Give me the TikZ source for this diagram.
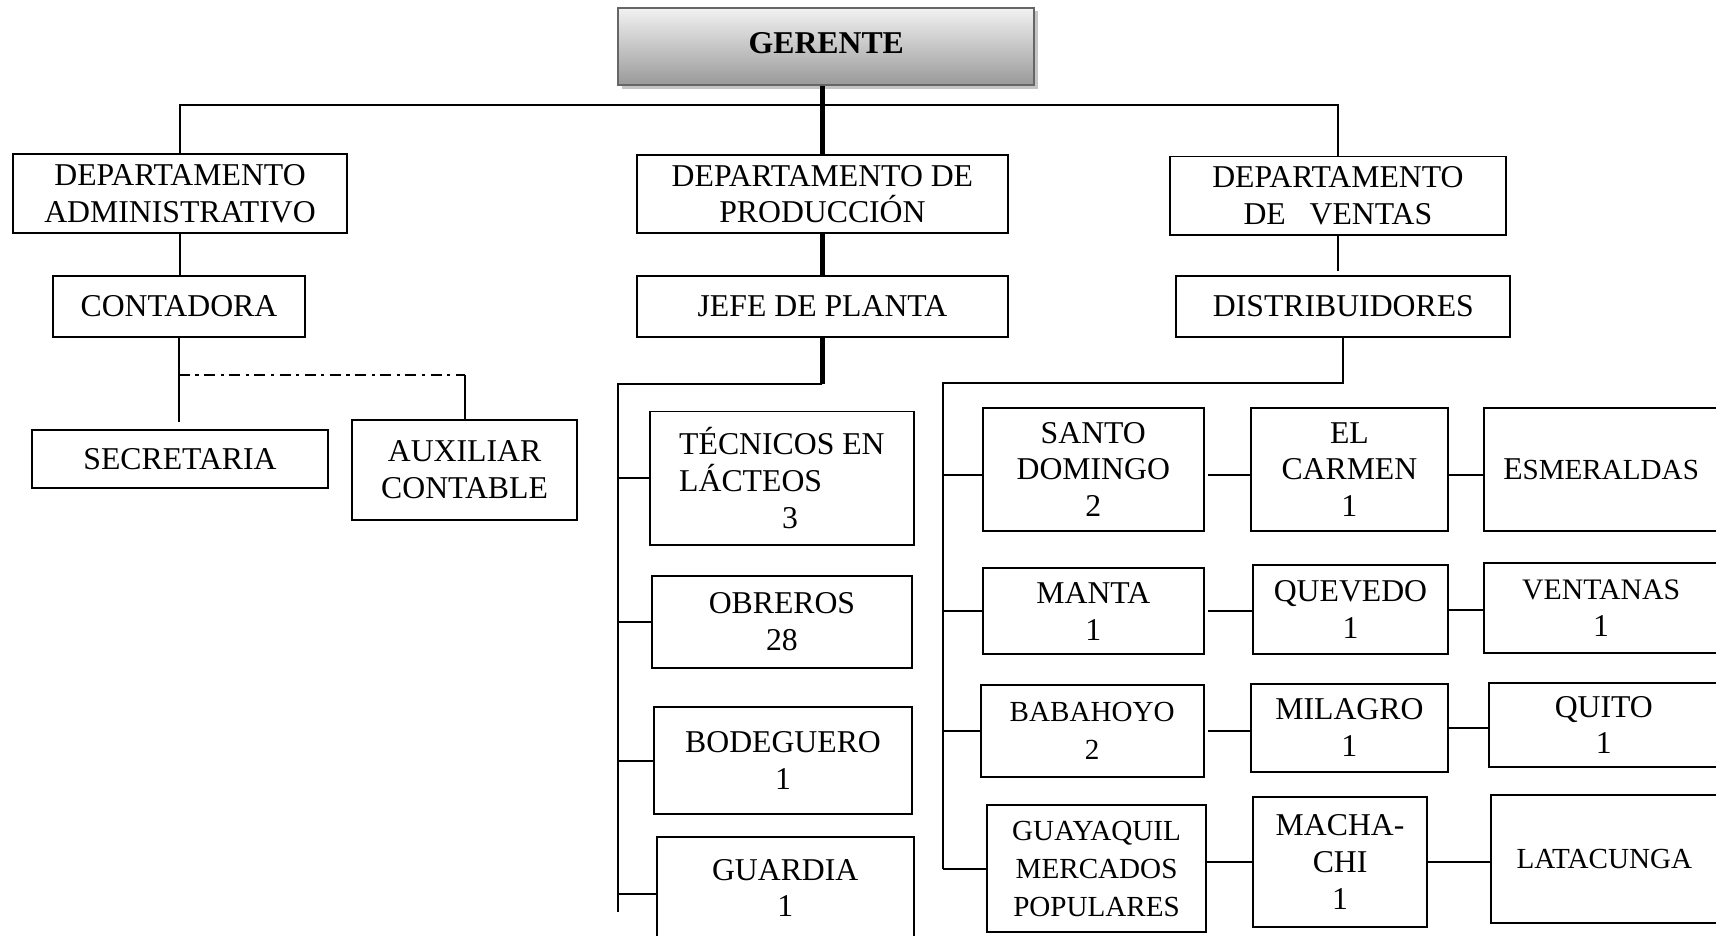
\documentclass[tikz,border=0pt]{standalone}
\usepackage{fontspec}
\setmainfont{Liberation Serif}
\usetikzlibrary{shadows}
\begin{document}
\begin{tikzpicture}[x=0.5pt,y=-0.5pt,
  spot/.style args={#1/#2/#3/#4}{minimum width={(#3-#1)*0.5pt}, minimum height={(#4-#2)*0.5pt}, at={({(#1+#3)/2},{(#2+#4)/2})}},
  box/.style={draw=black, line width=0.9pt, fill=white, inner sep=0pt, align=center, font=\fontsize{14.5}{16.8}\selectfont},
  sbox/.style={box, font=\fontsize{13.3}{17.2}\selectfont},
  conn/.style={line width=0.9pt},
  heavy/.style={line width=2.6pt},
  dashdot/.style={line width=0.9pt, dash pattern=on 5pt off 2.5pt on 1.5pt off 2.5pt}
]
\useasboundingbox (0,0) rectangle (1568,855);

% top
\node[spot=565/7/945/78, inner sep=0pt, draw=black!60, line width=1pt,
      top color=black!5, bottom color=black!40,
      drop shadow={shadow xshift=1.6pt, shadow yshift=-1.6pt, fill=black!45},
      font=\bfseries\fontsize{14.5}{16}\selectfont] (ger) {\raisebox{3pt}{GERENTE}};

% departments
\node[box, spot=12/141/317/213] (adm) {DEPARTAMENTO\\ADMINISTRATIVO};
\node[box, spot=582/142/921/213] (prod) {DEPARTAMENTO DE\\PRODUCCIÓN};
\node[box, spot=1069/143/1376/215] (ven) {DEPARTAMENTO\\DE\ \ \ VENTAS};

% admin
\node[box, spot=48/252/279/308] (con) {CONTADORA};
\node[box, spot=29/393/300/446] (sec) {SECRETARIA};
\node[box, spot=322/384/527/475] (aux) {AUXILIAR\\CONTABLE};

% production
\node[box, spot=582/252/921/308] (jefe) {JEFE DE PLANTA};
\node[box, spot=594/376/835/498, align=left] (tec) {TÉCNICOS EN\\LÁCTEOS\\\hspace*{47pt}3};
\node[box, spot=596/526/833/610] (obr) {OBREROS\\28};
\node[box, spot=598/646/833/744] (bod) {BODEGUERO\\1};
\node[box, spot=600/765/835/858] (gua) {GUARDIA\\1};

% sales
\node[box, spot=1075/252/1380/308] (dist) {DISTRIBUIDORES};
\node[box, spot=898/373/1100/485] (sd) {SANTO\\DOMINGO\\2};
\node[box, spot=898/519/1100/598] (man) {MANTA\\1};
\node[sbox, spot=896/626/1100/710] (bab) {BABAHOYO\\2};
\node[sbox, spot=902/736/1102/852] (guay) {GUAYAQUIL\\MERCADOS\\POPULARES};
\node[box, spot=1143/373/1323/485] (ec) {EL\\CARMEN\\1};
\node[box, spot=1145/516/1323/598] (que) {QUEVEDO\\1};
\node[box, spot=1143/625/1323/705] (mil) {MILAGRO\\1};
\node[box, spot=1145/728/1304/847] (mach) {MACHA-\\CHI\\1};
\node[box, spot=1356/373/1570/485] (esm) {E{\fontsize{13.3}{16}\selectfont SMERALDAS}};
\node[box, spot=1356/514/1570/597] (vts) {{\fontsize{13.6}{16}\selectfont VENTANAS}\\1};
\node[box, spot=1361/624/1570/701] (qui) {QUITO\\1};
\node[sbox, spot=1362/726/1570/843] (lat) {LATACUNGA};

% top bus
\draw[conn] (adm.north) -- ++(0,-44) -| (ven.north);
\draw[heavy] (prod.north) -- (prod.north |- ger.south);

% admin branch
\draw[conn] (adm.south) -- (adm.south |- con.north);
\draw[conn] (con.south) -- ++(0,77);
\path (con.south) ++(0,34) coordinate (cd);
\draw[dashdot] (cd) -- (cd -| aux.north);
\draw[conn] (cd -| aux.north) -- (aux.north);

% production branch
\draw[heavy] (prod.south) -- (jefe.north);
\draw[heavy] (jefe.south) -- ++(0,42) coordinate (pj);
\draw[conn] (pj) -- ++(-187,0) coordinate (ps) -- ++(0,482);
\draw[conn] (tec.west) -- (tec.west -| ps);
\draw[conn] (obr.west) -- (obr.west -| ps);
\draw[conn] (bod.west) -- (bod.west -| ps);
\path ([yshift=-2.75pt]gua.west) coordinate (gw);
\draw[conn] (gw) -- (gw -| ps);

% sales branch
\draw[conn] (ven.south) -- ++(0,32);
\draw[conn] (dist.south) -- ++(0,41) -- ++(-365.5,0) coordinate (ds) -- ++(0,444);
\path ([yshift=-2.5pt]sd.west) coordinate (sdw);
\path ([yshift=-2.5pt,xshift=1.5pt]sd.east) coordinate (sde);
\path ([yshift=-2.5pt]ec.east) coordinate (ece);
\draw[conn] (sdw) -- (sdw -| ds);
\draw[conn] (man.west) -- (man.west -| ds);
\draw[conn] (bab.west) -- (bab.west -| ds);
\draw[conn] (guay.west) -- (guay.west -| ds);

\draw[conn] (sde) -- (sde -| ec.west);
\draw[conn] ([xshift=1.5pt]man.east) -- (man.east -| que.west);
\draw[conn] ([xshift=1.5pt]bab.east) -- (bab.east -| mil.west);
\draw[conn] (mach.west) -- (mach.west -| guay.east);

\draw[conn] (ece) -- (ece -| esm.west);
\draw[conn] (que.east) -- (que.east -| vts.west);
\draw[conn] (mil.east) -- (mil.east -| qui.west);
\draw[conn] (mach.east) -- (mach.east -| lat.west);
\end{tikzpicture}
\end{document}
